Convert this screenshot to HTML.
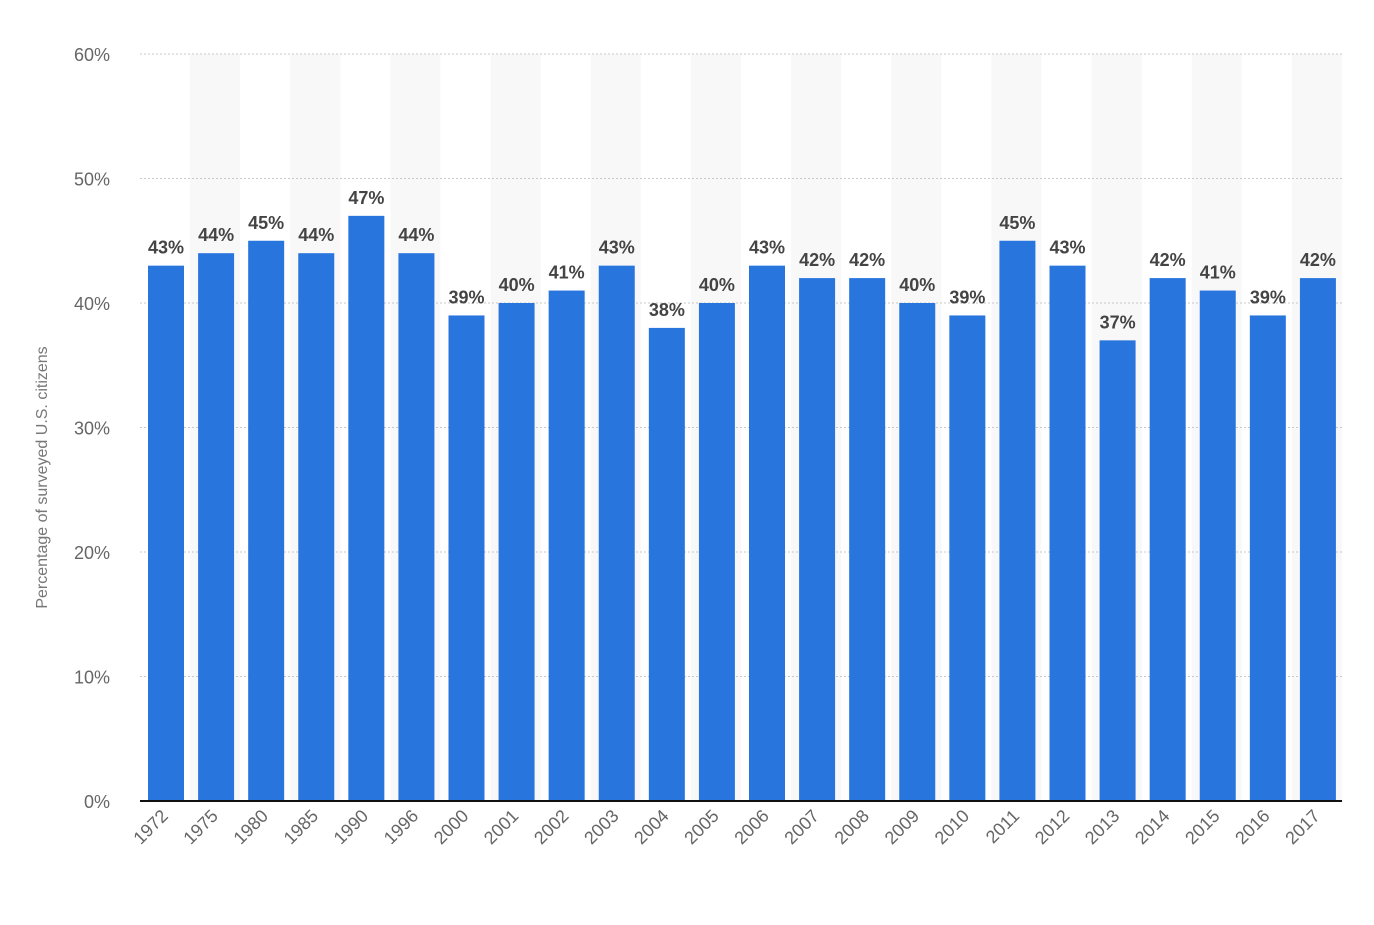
<!DOCTYPE html>
<html><head><meta charset="utf-8"><style>
body{margin:0;background:#fff;}
svg text{font-family:"Liberation Sans",sans-serif;}
</style></head><body>
<svg id="c" width="1374" height="920"></svg>
<script>
const categories=["1972","1975","1980","1985","1990","1996","2000","2001","2002","2003","2004","2005","2006","2007","2008","2009","2010","2011","2012","2013","2014","2015","2016","2017"];
const values=[43,44,45,44,47,44,39,40,41,43,38,40,43,42,42,40,39,45,43,37,42,41,39,42];
const yTicks=[0,10,20,30,40,50,60];
const NS="http://www.w3.org/2000/svg";
const svg=document.getElementById('c');
const L=140,R=1342,T=54,B=801,yMax=60;
const slot=(R-L)/categories.length;
const x=i=>L+i*slot;
const y=v=>B-(v/yMax)*(B-T);
function mk(t,a,p){const e=document.createElementNS(NS,t);for(const k in a)e.setAttribute(k,a[k]);(p||svg).appendChild(e);return e;}
categories.forEach((c,i)=>{if(i%2===1){const s=mk('rect',{x:x(i),y:T,width:slot,height:B-T,fill:'#f8f8f8'});

}});
yTicks.forEach(t=>{
 if(t>0){const g=mk('line',{x1:L,x2:R,y1:y(t),y2:y(t),stroke:'#c8c8c8','stroke-dasharray':'2,2'});
 
 }
 const tx=mk('text',{x:110,y:y(t)+7,'text-anchor':'end','font-size':'18',fill:'#666'});tx.textContent=t+'%';
 
 
});
categories.forEach((c,i)=>{
 const bw=36,bx=x(i)+8;
 const b=mk('rect',{x:bx,y:y(values[i]),width:bw,height:B-y(values[i]),fill:'#2875de'});
 
 
 const lb=mk('text',{x:bx+bw/2,y:y(values[i])-12,'text-anchor':'middle','font-size':'18','font-weight':'bold',fill:'#444'});lb.textContent=values[i]+'%';
 
 
 const cx=x(i)+slot/2+4,cy=817;
 const xl=mk('text',{x:cx,y:cy,'text-anchor':'end','font-size':'18',fill:'#666',transform:`rotate(-45 ${cx} ${cy})`});xl.textContent=c;
 
 
});
const ax=mk('line',{x1:L,x2:R,y1:B,y2:B,stroke:'#111','stroke-width':2});


const yt=mk('text',{x:47,y:(T+B)/2+50,'text-anchor':'middle','font-size':'16',fill:'#777',transform:`rotate(-90 47 ${(T+B)/2+50})`});yt.textContent='Percentage of surveyed U.S. citizens';


</script>
</body></html>
